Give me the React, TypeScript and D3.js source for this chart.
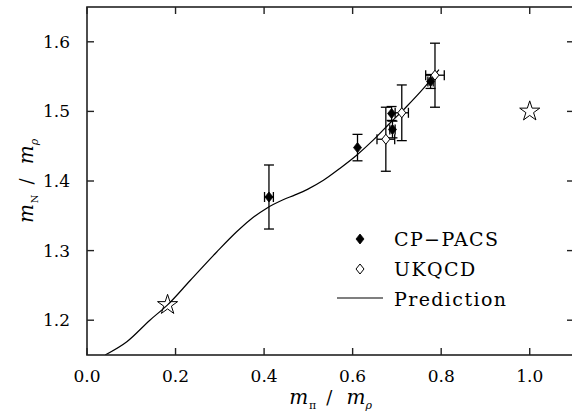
import React from 'react';
import * as d3 from 'd3';

const W = 572;
const H = 416;

// axis ticks
const xTicks = [0.0, 0.2, 0.4, 0.6, 0.8, 1.0];
const yTicks = [1.2, 1.3, 1.4, 1.5, 1.6];

// CP-PACS (filled diamonds)
const cpX = [0.411, 0.611, 0.688, 0.690, 0.776];
const cpY = [1.377, 1.448, 1.497, 1.474, 1.543];
const cpYErr = [0.046, 0.019, 0.010, 0.012, 0.010];
const cpXErr = [0.010, 0.0, 0.0, 0.006, 0.006];

// UKQCD (open diamonds)
const ukX = [0.675, 0.711, 0.786];
const ukY = [1.460, 1.498, 1.552];
const ukYErr = [0.046, 0.040, 0.046];
const ukXErr = [0.020, 0.015, 0.021];

// stars
const starX = [0.182, 1.0];
const starY = [1.222, 1.5];

// Prediction curve
const predX = [0.041, 0.09, 0.142, 0.182, 0.233, 0.293, 0.338, 0.368, 0.406, 0.443, 0.47, 0.498, 0.534, 0.571, 0.609, 0.647, 0.684, 0.722, 0.76, 0.795];
const predY = [1.150, 1.169, 1.200, 1.222, 1.257, 1.298, 1.327, 1.344, 1.361, 1.373, 1.380, 1.388, 1.401, 1.418, 1.437, 1.459, 1.483, 1.507, 1.533, 1.560];

const legendLabels = ['CP\u2212PACS', 'UKQCD', 'Prediction'];

const FONT = "'DejaVu Serif', serif";

export default function App() {
  const L = 87, R = 574, T = 7, B = 355;
  const x = d3.scaleLinear().domain([0, 1.1]).range([L, R]);
  const y = d3.scaleLinear().domain([1.15, 1.65]).range([B, T]);

  const line = d3
    .line<number>()
    .x((_, i) => x(predX[i]))
    .y((_, i) => y(predY[i]))
    .curve(d3.curveMonotoneX);

  const diamond = 'M0,-5L4,0L0,5L-4,0Z';
  const star = d3.symbol(d3.symbolStar, 125)() as string;
  const tick = 7;
  const cap = 5;

  const errorBar = (cx: number, cy: number, ex: number, ey: number, key: string) => {
    const px = x(cx), py = y(cy);
    const parts: JSX.Element[] = [];
    if (ey > 0) {
      const y0 = y(cy - ey), y1 = y(cy + ey);
      parts.push(<line key={key + 'v'} x1={px} x2={px} y1={y0} y2={y1} />);
      parts.push(<line key={key + 'c0'} x1={px - cap} x2={px + cap} y1={y0} y2={y0} />);
      parts.push(<line key={key + 'c1'} x1={px - cap} x2={px + cap} y1={y1} y2={y1} />);
    }
    if (ex > 0) {
      const x0 = x(cx - ex), x1 = x(cx + ex);
      parts.push(<line key={key + 'h'} x1={x0} x2={x1} y1={py} y2={py} />);
      parts.push(<line key={key + 'd0'} x1={x0} x2={x0} y1={py - cap} y2={py + cap} />);
      parts.push(<line key={key + 'd1'} x1={x1} x2={x1} y1={py - cap} y2={py + cap} />);
    }
    return parts;
  };

  const legX = 337, legY = 239, legStep = 30;

  return (
    <svg
      width={W}
      height={H}
      style={{ position: 'absolute', left: 0, top: 0, background: '#fff' }}
      fontFamily={FONT}
    >
      <defs>
        <clipPath id="plotclip">
          <rect x={L} y={T} width={R - L} height={B - T} />
        </clipPath>
      </defs>
      <rect x={0} y={0} width={W} height={H} fill="#fff" />

      {/* prediction curve */}
      <path d={line(predX) as string} fill="none" stroke="#000" strokeWidth={1.2} clipPath="url(#plotclip)" />

      {/* error bars */}
      <g stroke="#000" strokeWidth={1.3}>
        {cpX.map((v, i) => errorBar(v, cpY[i], cpXErr[i], cpYErr[i], 'cp' + i))}
        {ukX.map((v, i) => errorBar(v, ukY[i], ukXErr[i], ukYErr[i], 'uk' + i))}
      </g>

      {/* markers */}
      {cpX.map((v, i) => (
        <path key={'cpm' + i} d={diamond} transform={`translate(${x(v)},${y(cpY[i])})`} fill="#000" stroke="#000" strokeWidth={0.8} />
      ))}
      {ukX.map((v, i) => (
        <path key={'ukm' + i} d={diamond} transform={`translate(${x(v)},${y(ukY[i])})`} fill="#fff" stroke="#000" strokeWidth={1} />
      ))}
      {starX.map((v, i) => (
        <path key={'st' + i} d={star} transform={`translate(${x(v)},${y(starY[i])})`} fill="none" stroke="#000" strokeWidth={1} />
      ))}

      {/* frame */}
      <rect x={L} y={T} width={R - L} height={B - T} fill="none" stroke="#222" strokeWidth={1.6} />

      {/* ticks */}
      <g stroke="#222" strokeWidth={1.4}>
        {xTicks.map((t) => (
          <g key={'xt' + t}>
            <line x1={x(t)} x2={x(t)} y1={B} y2={B - tick} />
            <line x1={x(t)} x2={x(t)} y1={T} y2={T + tick} />
          </g>
        ))}
        {yTicks.map((t) => (
          <g key={'yt' + t}>
            <line x1={L} x2={L + tick} y1={y(t)} y2={y(t)} />
            <line x1={R} x2={R - tick} y1={y(t)} y2={y(t)} />
          </g>
        ))}
      </g>

      {/* tick labels */}
      <g fontSize={17} fill="#000">
        {xTicks.map((t) => (
          <text key={'xl' + t} x={x(t)} y={B + 27} textAnchor="middle">
            {d3.format('.1f')(t)}
          </text>
        ))}
        {yTicks.map((t) => (
          <text key={'yl' + t} x={L - 17} y={y(t) + 6} textAnchor="end">
            {d3.format('.1f')(t)}
          </text>
        ))}
      </g>

      {/* axis titles */}
      <text x={(L + R) / 2} y={404} textAnchor="middle" fontSize={20} fill="#000">
        <tspan fontStyle="italic">m</tspan>
        <tspan fontSize={11} dy={5} dx={1}>π</tspan>
        <tspan dy={-5} dx={10} fontSize={18}>/</tspan>
        <tspan fontStyle="italic" dx={14}>m</tspan>
        <tspan fontSize={11} dy={5} fontStyle="italic">ρ</tspan>
      </text>
      <text transform={`translate(33,${(T + B) / 2}) rotate(-90)`} textAnchor="middle" fontSize={20} fill="#000">
        <tspan fontStyle="italic">m</tspan>
        <tspan fontSize={10} dy={5} dx={1}>N</tspan>
        <tspan dy={-5} dx={10} fontSize={18}>/</tspan>
        <tspan fontStyle="italic" dx={14}>m</tspan>
        <tspan fontSize={11} dy={5} fontStyle="italic">ρ</tspan>
      </text>

      {/* legend */}
      <g>
        <path d={diamond} transform={`translate(${legX + 23},${legY})`} fill="#000" stroke="#000" strokeWidth={0.8} />
        <path d={diamond} transform={`translate(${legX + 23},${legY + legStep})`} fill="#fff" stroke="#000" strokeWidth={1} />
        <line x1={legX} x2={legX + 46} y1={legY + 2 * legStep - 1} y2={legY + 2 * legStep - 1} stroke="#000" strokeWidth={1.2} />
        {legendLabels.map((lab, i) => (
          <text key={lab} x={legX + 57} y={legY + i * legStep + 7} fontSize={19} letterSpacing={1.4} fill="#000">
            {lab}
          </text>
        ))}
      </g>
    </svg>
  );
}
